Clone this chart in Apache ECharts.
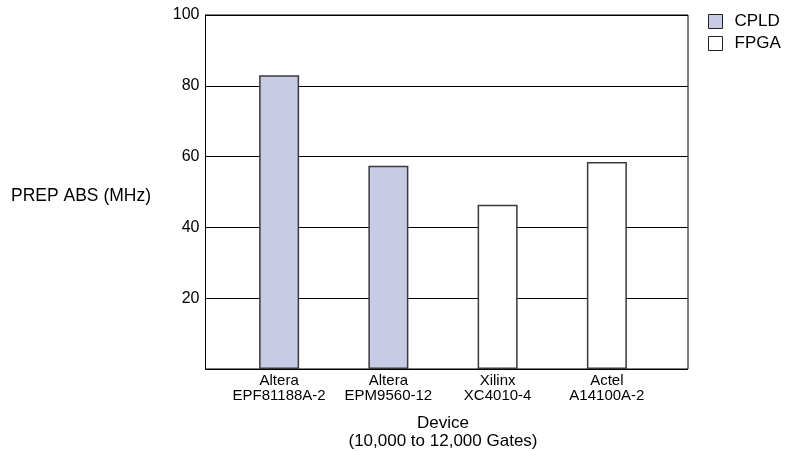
<!DOCTYPE html>
<html><head><meta charset="utf-8">
<script src="https://cdn.jsdelivr.net/npm/echarts@6/dist/echarts.min.js"></script>
<style>html,body{margin:0;padding:0;background:#fff}#c{width:788px;height:451px}</style>
</head><body><div id="c"></div>
<script>
const categories = ['Altera\nEPF81188A-2', 'Altera\nEPM9560-12', 'Xilinx\nXC4010-4', 'Actel\nA14100A-2'];
const cpldValues = [83.0, 57.4, '-', '-'];
const fpgaValues = ['-', '-', 46.4, 58.5];
const yTicks = [20, 40, 60, 80, 100];
const seriesNames = ['CPLD', 'FPGA'];
const xTitle = 'Device\n(10,000 to 12,000 Gates)';
const yTitle = 'PREP ABS (MHz)';

const font = 'Liberation Sans, Arial, sans-serif';
const chart = echarts.init(document.getElementById('c'), null, {renderer: 'canvas'});
chart.setOption({
  animation: false,
  backgroundColor: '#fff',
  textStyle: {fontFamily: font},
  legend: {
    orient: 'vertical', left: 708, top: 13, itemGap: 5, padding: 0,
    itemWidth: 14, itemHeight: 14, icon: 'rect',
    textStyle: {fontFamily: font, fontSize: 17, color: '#000', padding: [0,0,0,7]},
    data: [
      {name: seriesNames[0], itemStyle: {color: '#c8cbe5', borderColor: '#222', borderWidth: 1}},
      {name: seriesNames[1], itemStyle: {color: '#fff', borderColor: '#222', borderWidth: 1}}
    ]
  },
  graphic: [
    {type: 'text', left: 11, top: 187, style: {text: yTitle, font: '17.5px ' + font, fill: '#000'}}
  ],
  grid: [
    {left: 205.5, top: 15, width: 482.5, height: 354, show: true, borderColor: '#000', borderWidth: 1,
     containLabel: false, outerBoundsMode: 'none'},
    {left: 224.5, top: 15, width: 437, height: 354, containLabel: false, outerBoundsMode: 'none'}
  ],
  xAxis: [
    {gridIndex: 0, type: 'value', min: 0, max: 1, show: false},
    {gridIndex: 1, type: 'category', data: categories,
     axisLine: {show: false}, axisTick: {show: false},
     axisLabel: {interval: 0, fontFamily: font, fontSize: 15, color: '#000', lineHeight: 15, margin: 4},
     name: xTitle, nameLocation: 'middle', nameGap: 45,
     nameTextStyle: {fontFamily: font, fontSize: 17, color: '#000', lineHeight: 18}}
  ],
  yAxis: [
    {gridIndex: 0, type: 'value', min: 0, max: 100, interval: 20,
     axisLine: {show: true, lineStyle: {color: '#000', width: 1}},
     axisTick: {show: false},
     axisLabel: {fontFamily: font, fontSize: 16, color: '#000', margin: 6,
       formatter: v => yTicks.indexOf(v) >= 0 ? String(v) : ''},
     splitLine: {show: true, lineStyle: {color: '#000', width: 1}}},
    {gridIndex: 1, type: 'value', min: 0, max: 100, show: false}
  ],
  series: [
    {name: seriesNames[0], type: 'bar', xAxisIndex: 1, yAxisIndex: 1, data: cpldValues,
     barWidth: 40, barGap: '-100%',
     itemStyle: {color: '#c8cbe5', borderColor: '#3a3a3a', borderWidth: 1.5}},
    {name: seriesNames[1], type: 'bar', xAxisIndex: 1, yAxisIndex: 1, data: fpgaValues,
     barWidth: 40, barGap: '-100%',
     itemStyle: {color: '#fff', borderColor: '#3a3a3a', borderWidth: 1.5}}
  ]
});
</script></body></html>
